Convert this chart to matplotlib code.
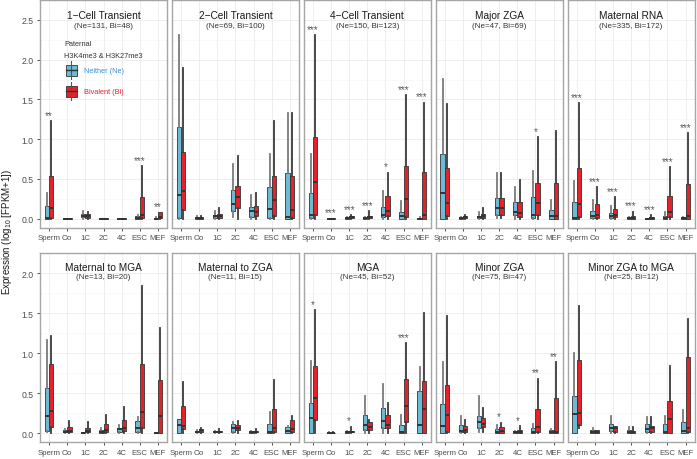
import numpy as np
import matplotlib
matplotlib.use('Agg')
import matplotlib.pyplot as plt
from matplotlib.patches import Rectangle
from matplotlib.lines import Line2D

plt.rcParams['font.family'] = ['Liberation Sans', 'DejaVu Sans']
plt.rcParams['mathtext.fontset'] = 'custom'
plt.rcParams['mathtext.rm'] = 'Liberation Sans'

# stages on the x axis
stages = ['Sperm', 'Oo', '1C', '2C', '4C', 'ESC', 'MEF']

titles = ['1\u2212Cell Transient', '2\u2212Cell Transient', '4\u2212Cell Transient',
          'Major ZGA', 'Maternal RNA', 'Maternal to MGA', 'Maternal to ZGA',
          'MGA', 'Minor ZGA', 'Minor ZGA to MGA']
n_ne = [131, 69, 150, 47, 335, 13, 11, 45, 75, 25]
n_bi = [48, 100, 123, 69, 172, 20, 15, 52, 47, 12]

# box stats, one row per stage: low whisker, Q1, median, Q3, high whisker
ne_cell1 = [[0, 0, 0.01, 0.16, 0.33], [0, 0, 0, 0.005, 0.01], [0, 0.02, 0.04, 0.06, 0.10],
            [0, 0, 0, 0.005, 0.01], [0, 0, 0, 0.005, 0.01], [0, 0, 0.005, 0.03, 0.05],
            [0, 0, 0, 0.01, 0.02]]
bi_cell1 = [[0, 0.01, 0.14, 0.54, 1.23], [0, 0, 0, 0.005, 0.01], [0, 0.01, 0.04, 0.06, 0.08],
            [0, 0, 0, 0.005, 0.01], [0, 0, 0, 0.005, 0.01], [0, 0.01, 0.05, 0.27, 0.66],
            [0, 0.01, 0.02, 0.08, 0.08]]

ne_cell2 = [[0, 0.01, 0.30, 1.15, 2.31], [0, 0, 0.01, 0.02, 0.03], [0, 0.01, 0.03, 0.04, 0.10],
            [0.02, 0.10, 0.18, 0.36, 0.69], [0, 0.02, 0.10, 0.15, 0.30], [0, 0.01, 0.12, 0.40, 0.82],
            [0, 0, 0.02, 0.58, 1.33]]
bi_cell2 = [[0, 0.11, 0.35, 0.84, 1.90], [0, 0, 0.01, 0.02, 0.03], [0, 0.01, 0.03, 0.06, 0.13],
            [0, 0.14, 0.27, 0.41, 0.79], [0, 0.03, 0.09, 0.16, 0.32], [0, 0.03, 0.24, 0.54, 1.23],
            [0, 0.01, 0.11, 0.54, 1.33]]

ne_cell4 = [[0, 0.01, 0.05, 0.33, 0.82], [0, 0, 0, 0.005, 0.01], [0, 0, 0.005, 0.01, 0.02],
            [0, 0, 0.005, 0.01, 0.02], [0, 0.02, 0.05, 0.15, 0.35], [0, 0, 0.03, 0.09, 0.22],
            [0, 0, 0, 0.01, 0.02]]
bi_cell4 = [[0, 0.05, 0.46, 1.03, 2.31], [0, 0, 0, 0.005, 0.01], [0, 0.01, 0.02, 0.03, 0.05],
            [0, 0.01, 0.02, 0.04, 0.10], [0, 0.03, 0.10, 0.28, 0.58], [0, 0.02, 0.25, 0.66, 1.55],
            [0, 0, 0.05, 0.59, 1.46]]

ne_major = [[0, 0, 0.33, 0.81, 1.76], [0, 0, 0.005, 0.01, 0.02], [0, 0.01, 0.02, 0.04, 0.08],
            [0.01, 0.05, 0.14, 0.26, 0.58], [0, 0.05, 0.08, 0.21, 0.40], [0, 0.01, 0.05, 0.27, 0.60],
            [0, 0, 0.03, 0.11, 0.24]]
bi_major = [[0, 0.04, 0.20, 0.64, 1.44], [0, 0.01, 0.02, 0.03, 0.05], [0, 0.01, 0.03, 0.06, 0.13],
            [0.01, 0.05, 0.14, 0.26, 0.57], [0, 0.02, 0.07, 0.21, 0.49], [0, 0.05, 0.20, 0.45, 1.03],
            [0, 0, 0.04, 0.45, 1.10]]

ne_matrna = [[0, 0, 0.01, 0.21, 0.48], [0, 0.01, 0.03, 0.10, 0.23], [0, 0.01, 0.03, 0.07, 0.16],
             [0, 0, 0.005, 0.01, 0.02], [0, 0, 0, 0.005, 0.01], [0, 0, 0.01, 0.04, 0.09],
             [0, 0, 0.005, 0.01, 0.02]]
bi_matrna = [[0, 0.02, 0.19, 0.64, 1.45], [0, 0.01, 0.05, 0.18, 0.40], [0, 0.02, 0.05, 0.12, 0.27],
             [0, 0, 0.01, 0.03, 0.09], [0, 0, 0.01, 0.02, 0.05], [0, 0.02, 0.08, 0.28, 0.65],
             [0, 0, 0.03, 0.44, 1.08]]

ne_mat_mga = [[0.01, 0.03, 0.21, 0.56, 1.17], [0, 0.01, 0.02, 0.04, 0.05], [0, 0, 0.005, 0.01, 0.01],
              [0, 0, 0.01, 0.04, 0.06], [0, 0.02, 0.05, 0.07, 0.10], [0, 0.02, 0.06, 0.15, 0.20],
              [0, 0, 0.005, 0.01, 0.02]]
bi_mat_mga = [[0, 0.08, 0.28, 0.86, 1.22], [0, 0.02, 0.03, 0.08, 0.15], [0, 0.01, 0.03, 0.06, 0.14],
              [0, 0.02, 0.04, 0.12, 0.23], [0, 0.03, 0.06, 0.17, 0.33], [0, 0.06, 0.26, 0.86, 1.84],
              [0, 0, 0.21, 0.66, 1.32]]

ne_mat_zga = [[0, 0, 0.10, 0.18, 0.18], [0, 0.01, 0.02, 0.03, 0.04], [0, 0.01, 0.015, 0.02, 0.03],
              [0, 0.02, 0.06, 0.11, 0.14], [0, 0, 0.01, 0.02, 0.03], [0, 0, 0.02, 0.12, 0.26],
              [0, 0, 0.03, 0.08, 0.09]]
bi_mat_zga = [[0, 0.05, 0.09, 0.34, 0.64], [0, 0.02, 0.04, 0.05, 0.07], [0, 0.01, 0.02, 0.03, 0.05],
              [0, 0.04, 0.07, 0.10, 0.15], [0, 0.01, 0.02, 0.03, 0.05], [0, 0.02, 0.06, 0.30, 0.66],
              [0, 0.01, 0.05, 0.17, 0.22]]

ne_mga = [[0, 0, 0.19, 0.38, 0.90], [0, 0, 0, 0.005, 0.01], [0, 0, 0.01, 0.02, 0.03],
          [0, 0.04, 0.10, 0.23, 0.46], [0, 0.07, 0.15, 0.31, 0.62], [0, 0, 0.02, 0.10, 0.23],
          [0, 0, 0.10, 0.53, 0.83]]
bi_mga = [[0, 0.16, 0.44, 0.84, 1.54], [0, 0, 0, 0.005, 0.01], [0, 0.01, 0.02, 0.03, 0.08],
          [0, 0.04, 0.08, 0.14, 0.17], [0, 0.07, 0.10, 0.23, 0.38], [0, 0.14, 0.34, 0.68, 1.13],
          [0, 0, 0.30, 0.65, 1.50]]

ne_minor = [[0, 0, 0.09, 0.36, 0.89], [0, 0.01, 0.03, 0.10, 0.22], [0.02, 0.06, 0.14, 0.22, 0.47],
            [0, 0, 0.02, 0.05, 0.10], [0, 0, 0.01, 0.02, 0.03], [0, 0, 0.02, 0.06, 0.11],
            [0, 0, 0.01, 0.04, 0.05]]
bi_minor = [[0, 0.02, 0.23, 0.60, 1.46], [0, 0.02, 0.04, 0.09, 0.17], [0.02, 0.08, 0.12, 0.19, 0.31],
            [0, 0, 0.03, 0.08, 0.13], [0, 0, 0.02, 0.04, 0.09], [0, 0.02, 0.08, 0.30, 0.68],
            [0, 0, 0.02, 0.44, 0.89]]

ne_minor_mga = [[0, 0, 0.24, 0.46, 1.00], [0, 0, 0.02, 0.04, 0.06], [0, 0.03, 0.06, 0.11, 0.21],
                [0, 0, 0.02, 0.04, 0.08], [0, 0.02, 0.05, 0.12, 0.20], [0, 0, 0.02, 0.12, 0.22],
                [0, 0, 0.03, 0.14, 0.29]]
bi_minor_mga = [[0.06, 0.10, 0.25, 0.92, 1.59], [0, 0, 0.02, 0.04, 0.04], [0, 0.02, 0.07, 0.09, 0.09],
                [0, 0, 0.01, 0.03, 0.08], [0, 0.02, 0.06, 0.09, 0.20], [0, 0, 0.18, 0.40, 0.84],
                [0, 0.01, 0.06, 0.95, 1.43]]

# significance marks per stage
sig_cell1 = ['**', '', '', '', '', '***', '**']
sig_cell2 = [''] * 7
sig_cell4 = ['***', '***', '***', '***', '*', '***', '***']
sig_major = ['', '', '', '', '', '*', '']
sig_matrna = ['***'] * 7
sig_mat_mga = [''] * 7
sig_mat_zga = [''] * 7
sig_mga = ['*', '', '*', '', '', '***', '']
sig_minor = ['', '', '', '*', '*', '**', '**']
sig_minor_mga = [''] * 7

ne_all = [ne_cell1, ne_cell2, ne_cell4, ne_major, ne_matrna,
          ne_mat_mga, ne_mat_zga, ne_mga, ne_minor, ne_minor_mga]
bi_all = [bi_cell1, bi_cell2, bi_cell4, bi_major, bi_matrna,
          bi_mat_mga, bi_mat_zga, bi_mga, bi_minor, bi_minor_mga]
sig_all = [sig_cell1, sig_cell2, sig_cell4, sig_major, sig_matrna,
           sig_mat_mga, sig_mat_zga, sig_mga, sig_minor, sig_minor_mga]

blue = '#6CBAD3'
red = '#E4222A'
W, H = 697, 460


def to_stats(rows):
    return [dict(whislo=r[0], q1=r[1], med=r[2], q3=r[3], whishi=r[4], fliers=[]) for r in rows]


def draw_boxes(ax, rows, pos, color, wcolor):
    ax.bxp(to_stats(rows), positions=pos, widths=0.24, patch_artist=True,
           showcaps=False, showfliers=False,
           boxprops=dict(facecolor=color, edgecolor='#333333', linewidth=0.6),
           whiskerprops=dict(color=wcolor, linewidth=1.3),
           medianprops=dict(color='#333333', linewidth=1.4))


fig = plt.figure(figsize=(W / 100, H / 100), dpi=100)
x = np.arange(1, 8)

for i in range(10):
    row, col = divmod(i, 5)
    left = 40 + col * 131.9
    if row == 0:
        top_px, bot_px = 1, 229
        ylim = (-0.116, 2.62)
        yt = [0, 0.5, 1.0, 1.5, 2.0, 2.5]
        toff = (-11, -18.5)
    else:
        top_px, bot_px = 254.3, 443.3
        ylim = (-0.115, 2.153)
        yt = [0, 0.5, 1.0, 1.5, 2.0]
        toff = (-9.7, -16.9)
    ax = fig.add_axes([left / W, 1 - bot_px / H, 127 / W, (bot_px - top_px) / H])
    ax.set_xlim(0.5, 7.5)
    ax.set_ylim(*ylim)
    ax.set_yticks(yt)
    ax.set_yticks([t + 0.25 for t in yt], minor=True)
    ax.grid(True, which='major', color='#EBEBEB', linewidth=0.6, zorder=0)
    ax.grid(True, which='minor', axis='y', color='#F5F5F5', linewidth=0.4, zorder=0)
    ax.set_axisbelow(True)
    for s in ax.spines.values():
        s.set_color('#A6A6A6')
        s.set_linewidth(1.0)
    ax.tick_params(which='minor', length=0)
    ax.tick_params(axis='x', length=2.5, width=0.6, color='#333333', pad=2,
                   labelsize=5.6, labelcolor='#4D4D4D')
    if col == 0:
        ax.tick_params(axis='y', length=2.5, width=0.6, color='#333333', pad=2,
                       labelsize=6.2, labelcolor='#4D4D4D')
        ax.set_yticklabels(['%.1f' % t for t in yt])
    else:
        ax.tick_params(axis='y', length=0, labelleft=False)

    draw_boxes(ax, ne_all[i], x - 0.12, blue, '#7A7A7A')
    draw_boxes(ax, bi_all[i], x + 0.12, red, '#3A3A3A')
    ax.set_xticks(x)
    ax.set_xticklabels(stages)

    for k in range(7):
        if sig_all[i][k]:
            top = max(ne_all[i][k][4], bi_all[i][k][4])
            ax.text(x[k], top + 0.04, sig_all[i][k], ha='center', va='baseline',
                    fontsize=7, color='#5A5A5A')

    ax.annotate(titles[i], xy=(0.5, 1), xycoords='axes fraction', xytext=(0, toff[0]),
                textcoords='offset points', ha='center', va='center', fontsize=7.3,
                color='#1A1A1A')
    ax.annotate('(Ne=%d, Bi=%d)' % (n_ne[i], n_bi[i]), xy=(0.5, 1), xycoords='axes fraction',
                xytext=(0, toff[1]), textcoords='offset points', ha='center', va='center',
                fontsize=5.8, color='#333333')


# legend drawn in the first panel
def fx(px):
    return px / W


def fy(py):
    return 1 - py / H


fig.text(fx(64), fy(45), 'Paternal', fontsize=5.3, color='#333333', va='center')
fig.text(fx(64), fy(56.7), 'H3K4me3 & H3K27me3', fontsize=5.3, color='#333333', va='center')
for (yc, col, lab, tcol) in [(71, blue, 'Neither (Ne)', '#3C8FD2'), (92, red, 'Bivalent (Bi)', red)]:
    fig.add_artist(Line2D([fx(71), fx(71)], [fy(yc - 9), fy(yc + 9)], transform=fig.transFigure,
                          color='#555555', linewidth=0.8))
    fig.add_artist(Rectangle((fx(65.5), fy(yc + 5.5)), 11 / W, 11 / H, transform=fig.transFigure,
                             facecolor=col, edgecolor='#333333', linewidth=0.6))
    fig.add_artist(Line2D([fx(65.5), fx(76.5)], [fy(yc), fy(yc)], transform=fig.transFigure,
                          color='#333333', linewidth=1.0))
    fig.text(fx(84), fy(yc + 0.5), lab, fontsize=5.3, color=tcol, va='center')

fig.text(fx(7), fy(232), 'Expression (log$_{10}$ [FPKM+1])', rotation=90, ha='center',
         va='center', fontsize=7, color='#1A1A1A')

fig.savefig('out.png', dpi=100)
